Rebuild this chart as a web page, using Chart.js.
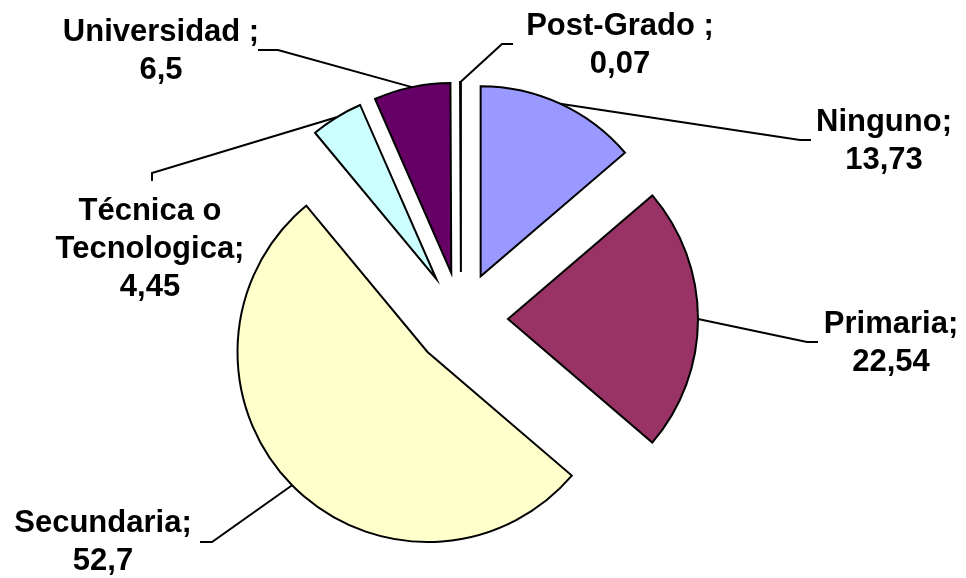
<!DOCTYPE html>
<html>
<head>
<meta charset="utf-8">
<script src="https://cdn.jsdelivr.net/npm/chart.js@4"></script>
<style>
  html, body { margin: 0; padding: 0; background: #fff; }
  #wrap { width: 966px; height: 578px; }
</style>
</head>
<body>
<div id="wrap"><canvas id="pieChart" width="966" height="578"></canvas></div>
<script>
  "use strict";

  // data
  const categories = ["Ninguno", "Primaria", "Secundaria", "Técnica o\nTecnologica", "Universidad ", "Post-Grado "];
  const values = [13.73, 22.54, 52.7, 4.45, 6.5, 0.07];
  const sliceColors = ["#9999FF", "#993366", "#FFFFCC", "#CCFFFF", "#660066", "#FF8080"];

  // label placement: text centre x, first baseline y, leader elbow points
  const labelLayout = [
    { x: 884, y: 131, elbow: [[811, 140], [800, 140]] },
    { x: 891, y: 333, elbow: [[818, 342], [807, 342]] },
    { x: 103, y: 532, elbow: [[200, 542], [212, 542]] },
    { x: 150, y: 220, elbow: [[152, 181], [152, 173]] },
    { x: 161, y: 41, elbow: [[258, 50], [278, 50]] },
    { x: 620, y: 35, elbow: [[513, 44], [502, 44]] },
  ];

  const EXPLODE = 47;
  const FONT = "bold 31px 'Liberation Sans', Arial, sans-serif";
  const LINE_H = 38;

  const fmt = (v) => String(v).replace(".", ",");

  const explodePlugin = {
    id: "explode",
    afterDatasetsUpdate(chart) {
      chart.getDatasetMeta(0).data.forEach((arc) => {
        const mid = (arc.startAngle + arc.endAngle) / 2;
        arc.x += Math.cos(mid) * EXPLODE;
        arc.y += Math.sin(mid) * EXPLODE;
      });
    },
  };

  const labelPlugin = {
    id: "sliceLabels",
    afterDatasetsDraw(chart) {
      const ctx = chart.ctx;
      const arcs = chart.getDatasetMeta(0).data;
      ctx.save();
      arcs.forEach((arc, i) => {
        const lay = labelLayout[i];
        const mid = (arc.startAngle + arc.endAngle) / 2;
        const ax = arc.x + Math.cos(mid) * arc.outerRadius;
        const ay = arc.y + Math.sin(mid) * arc.outerRadius;
        ctx.strokeStyle = "#000";
        ctx.lineWidth = 2;
        ctx.lineJoin = "miter";
        ctx.beginPath();
        ctx.moveTo(lay.elbow[0][0], lay.elbow[0][1]);
        ctx.lineTo(lay.elbow[1][0], lay.elbow[1][1]);
        ctx.lineTo(ax, ay);
        ctx.stroke();

        const parts = categories[i].split("\n");
        parts[parts.length - 1] += ";";
        const lines = parts.concat([fmt(values[i])]);
        ctx.fillStyle = "#000";
        ctx.font = FONT;
        ctx.textAlign = "center";
        ctx.textBaseline = "alphabetic";
        lines.forEach((t, j) => ctx.fillText(t, lay.x, lay.y + j * LINE_H));
      });
      ctx.restore();
    },
  };

  document.addEventListener("DOMContentLoaded", () => {
    new Chart(document.getElementById("pieChart"), {
      type: "pie",
      data: {
        labels: categories,
        datasets: [
          {
            data: values,
            backgroundColor: sliceColors,
            borderColor: "#000",
            borderWidth: 2,
            borderJoinStyle: "miter",
          },
        ],
      },
      options: {
        responsive: false,
        animation: false,
        radius: 190,
        layout: { padding: { left: 0, right: 44, top: 60, bottom: 0 } },
        plugins: { legend: { display: false }, tooltip: { enabled: false } },
        events: [],
      },
      plugins: [explodePlugin, labelPlugin],
    });
  });
</script>
</body>
</html>
